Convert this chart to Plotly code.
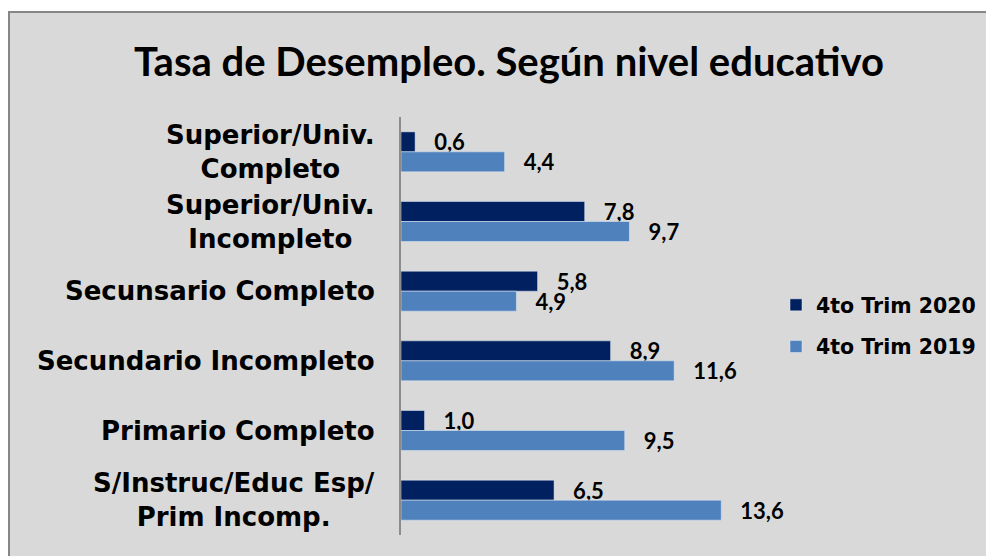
import plotly.graph_objects as go

categories = [
    "Superior/Univ.<br>Completo",
    "Superior/Univ.<br>Incompleto",
    "Secunsario Completo",
    "Secundario Incompleto",
    "Primario Completo",
    "S/Instruc/Educ Esp/<br>Prim Incomp.",
]
trim_2020 = [0.6, 7.8, 5.8, 8.9, 1.0, 6.5]
trim_2019 = [4.4, 9.7, 4.9, 11.6, 9.5, 13.6]
series_names = ["4to Trim 2020", "4to Trim 2019"]
title_text = "Tasa de Desempleo. Según nivel educativo"

W, H = 994, 556
OFF = 8  # page body margin
# plot area in page pixels: x 401..778, y 117..535
L = 401 - OFF
T = 117 - OFF
R = W - (778 - OFF)
B = H - (535 - OFF)
pw, ph = W - L - R, H - T - B

def px_x(px):
    return (px - OFF - L) / pw

def px_y(py):
    return (H - B - (py - OFF)) / ph

label_font = dict(family="Lato", size=22, color="black", weight="bold")
tt = "\u00a0\u00a0\u00a0%{x:.1f}"

fig = go.Figure()
fig.add_trace(go.Bar(
    y=categories, x=trim_2020, orientation="h", name=series_names[0],
    marker=dict(color="#002060"), legendgroup="a",
    texttemplate=tt, textposition="outside", textfont=label_font,
    constraintext="none", cliponaxis=False,
))
fig.add_trace(go.Bar(
    y=categories, x=trim_2019, orientation="h", name=series_names[1],
    marker=dict(color="#4f81bd"), legendgroup="b",
    texttemplate=tt, textposition="outside", textfont=label_font,
    constraintext="none", cliponaxis=False,
))

annotations = []
for c in categories:
    annotations.append(dict(
        x=px_x(377), xref="paper", y=c, yref="y", text="<b>%s</b>" % c,
        showarrow=False, xanchor="right", yanchor="middle", align="center",
        font=dict(family="DejaVu Sans", size=26, color="black"),
    ))
annotations.append(dict(
    x=px_x(509), xref="paper", y=px_y(61), yref="paper",
    text="<b>%s</b>" % title_text, showarrow=False,
    xanchor="center", yanchor="middle",
    font=dict(family="Lato", size=40, color="black"),
))

fig.update_layout(
    width=W, height=H,
    margin=dict(l=L, r=R, t=T, b=B, pad=0),
    paper_bgcolor="white",
    plot_bgcolor="rgba(0,0,0,0)",
    separators=", ",
    barmode="group",
    bargap=0.426,
    bargroupgap=0,
    showlegend=True,
    legend=dict(
        x=px_x(776), y=px_y(285), xanchor="left", yanchor="top",
        xref="paper", yref="paper",
        traceorder="grouped", tracegroupgap=12,
        font=dict(family="DejaVu Sans", size=20.5, color="black", weight="bold"),
        bgcolor="rgba(0,0,0,0)",
    ),
    xaxis=dict(range=[0, pw / 23.55], showgrid=False, zeroline=False,
               showticklabels=False, showline=False, ticks=""),
    yaxis=dict(autorange="reversed", showgrid=False, showticklabels=False,
               showline=True, linecolor="#8c8c8c", linewidth=2, ticks=""),
    annotations=annotations,
    shapes=[dict(
        type="rect", xref="paper", yref="paper", layer="below",
        x0=px_x(9), x1=px_x(1020), y0=px_y(580), y1=px_y(12),
        fillcolor="#d9d9d9", line=dict(color="#868686", width=2),
    )],
)

fig.write_html("out.html")
